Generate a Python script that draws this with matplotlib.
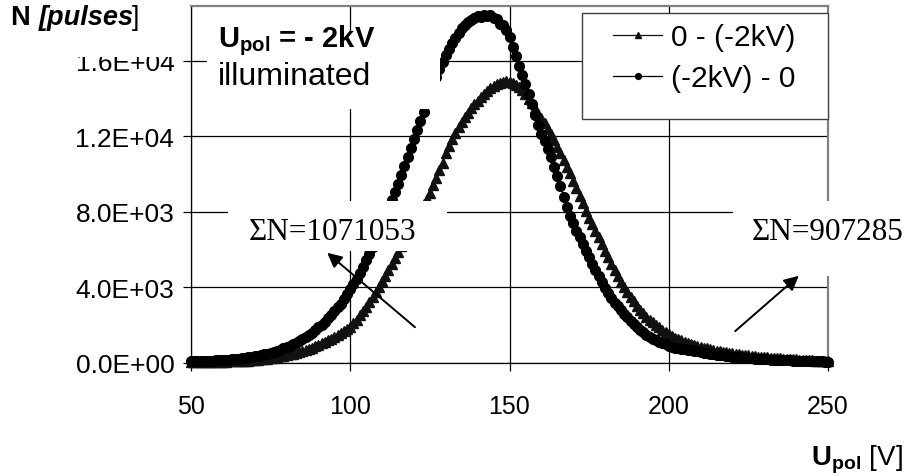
import matplotlib
matplotlib.use('Agg')
import matplotlib.pyplot as plt
from matplotlib.patches import Rectangle
from matplotlib.ticker import FuncFormatter, MultipleLocator

plt.rcParams['font.family'] = ['Liberation Sans', 'DejaVu Sans']
plt.rcParams['mathtext.fontset'] = 'custom'
plt.rcParams['mathtext.rm'] = 'Liberation Sans'
plt.rcParams['mathtext.bf'] = 'Liberation Sans:bold'
plt.rcParams['mathtext.it'] = 'Liberation Sans:italic'

# Polarisation voltage, 1 V steps
U_POL = list(range(50, 251))

# 0 -> (-2kV) sweep (triangles)
N_UP = [
    40, 45, 45, 50, 50, 55, 55, 60, 60, 65,
    70, 75, 80, 85, 90, 100, 110, 120, 130, 140,
    160, 175, 190, 210, 230, 255, 280, 310, 345, 380,
    420, 460, 500, 550, 600, 650, 700, 760, 820, 890,
    960, 1040, 1120, 1200, 1290, 1380, 1480, 1580, 1690, 1800,
    1920, 2100, 2300, 2520, 2750, 2990, 3240, 3500, 3770, 4050,
    4330, 4620, 4920, 5230, 5550, 5880, 6220, 6570, 6930, 7300,
    7500, 7800, 8100, 8400, 8700, 9000, 9400, 9800, 10200, 10600,
    11100, 11500, 11850, 12180, 12480, 12760, 13020, 13260, 13480, 13690,
    13890, 14080, 14250, 14410, 14550, 14670, 14770, 14850, 14900, 14920,
    14900, 14840, 14740, 14600, 14430, 14230, 14000, 13750, 13480, 13190,
    12950, 12680, 12400, 12100, 11780, 11440, 11100, 10750, 10400, 10050,
    9650, 9250, 8850, 8450, 8050, 7700, 7350, 7000, 6650, 6300,
    5950, 5600, 5250, 4900, 4600, 4300, 4020, 3760, 3500, 3260,
    3040, 2830, 2640, 2460, 2300, 2150, 2010, 1880, 1760, 1650,
    1540, 1440, 1350, 1270, 1200, 1130, 1060, 1000, 950, 900,
    850, 810, 770, 730, 690, 660, 630, 600, 570, 540,
    510, 490, 460, 440, 420, 400, 380, 360, 340, 325,
    310, 295, 280, 265, 250, 240, 230, 220, 210, 200,
    190, 180, 170, 160, 150, 140, 130, 120, 110, 100, 90,
]

# (-2kV) -> 0 sweep (circles)
N_DOWN = [
    90, 100, 95, 110, 105, 120, 115, 130, 140, 150,
    165, 170, 185, 200, 210, 230, 250, 270, 300, 330,
    360, 390, 420, 460, 500, 540, 590, 640, 700, 770,
    840, 910, 990, 1070, 1160, 1260, 1370, 1480, 1610, 1740,
    1880, 2030, 2190, 2360, 2540, 2730, 2940, 3150, 3380, 3630,
    3900, 4180, 4470, 4780, 5100, 5440, 5790, 6160, 6540, 6940,
    7340, 7760, 8180, 8610, 9050, 9500, 9960, 10430, 10900, 11380,
    11860, 12340, 12820, 13300, 13780, 14250, 14700, 15130, 15540, 15920,
    16280, 16620, 16930, 17220, 17480, 17710, 17900, 18060, 18180, 18280,
    18350, 18300, 18450, 18380, 18420, 18280, 18230, 17950, 17900, 17620,
    17250, 16750, 16250, 15750, 15250, 14750, 14250, 13700, 13150, 12600,
    12150, 11750, 11350, 10900, 10400, 9900, 9350, 8800, 8250, 7800,
    7400, 7000, 6650, 6300, 5950, 5600, 5250, 4900, 4600, 4300,
    3950, 3700, 3450, 3200, 3000, 2800, 2600, 2420, 2250, 2090,
    1900, 1750, 1620, 1500, 1390, 1290, 1200, 1120, 1050, 980,
    900, 860, 820, 790, 760, 730, 700, 670, 640, 610,
    580, 550, 520, 495, 470, 445, 420, 400, 380, 360,
    340, 320, 305, 290, 275, 260, 245, 235, 225, 215,
    205, 195, 185, 175, 170, 160, 150, 145, 140, 130,
    125, 120, 110, 105, 100, 95, 90, 85, 80, 75, 70,
]

LABELS = ['0 - (-2kV)', '(-2kV) - 0']
SUM_UP = 'ΣN=907285'
SUM_DOWN = 'ΣN=1071053'

W, H = 911, 477
fig = plt.figure(figsize=(W / 100, H / 100), dpi=100)
# axes box in pixels: left 191, right 828, top 7, bottom 364
ax = fig.add_axes([191 / W, 113 / H, 637 / W, 357 / H])
ax.set_xlim(50, 250)
ax.set_ylim(0, 18900)

l1, = ax.plot(U_POL, N_UP, '-', color='#111111', lw=0.9, marker='^',
              ms=7.5, clip_on=False, zorder=3)
l2, = ax.plot(U_POL, N_DOWN, '-', color='black', lw=0.9, marker='o',
              ms=7, clip_on=False, zorder=3)

ax.xaxis.set_major_locator(MultipleLocator(50))
ax.yaxis.set_major_locator(MultipleLocator(4000))
ax.yaxis.set_major_formatter(FuncFormatter(lambda v, p: f'{v:.1E}'))
ax.grid(True, color='black', lw=0.9)
ax.set_axisbelow(True)
ax.tick_params(direction='out', length=6, width=0.9, color='black')
ax.tick_params(axis='y', pad=6, labelsize=19)
ax.tick_params(axis='x', pad=16, labelsize=18)
for s in ['top', 'right']:
    ax.spines[s].set_color('#808080')
    ax.spines[s].set_linewidth(1.6)
for s in ['left', 'bottom']:
    ax.spines[s].set_color('black')
    ax.spines[s].set_linewidth(0.9)


def px_box(x0, y0, x1, y1, **kw):
    """white box given in figure pixels (y from top)"""
    r = Rectangle((x0 / W, 1 - y1 / H), (x1 - x0) / W, (y1 - y0) / H,
                  transform=fig.transFigure, **kw)
    fig.add_artist(r)
    return r


# white boxes behind the annotations (cover grid and curves)
px_box(207, 33, 440, 110, facecolor='white', edgecolor='none', zorder=4)
px_box(60, 33, 182, 58, facecolor='white', edgecolor='none', zorder=4)
px_box(228, 202, 447, 252, facecolor='white', edgecolor='none', zorder=4)
px_box(733, 202, 911, 277, facecolor='white', edgecolor='none', zorder=4)
# legend frame
px_box(582, 14, 828, 120, facecolor='white', edgecolor='#404040', lw=1.0, zorder=4)

leg = fig.legend([l1, l2], LABELS, loc='upper left',
                 bbox_to_anchor=(613 / W, 1 - 24 / H), frameon=False,
                 fontsize=21.5, handlelength=1.65, handletextpad=0.3,
                 borderpad=0, borderaxespad=0, labelspacing=0.45,
                 markerscale=0.6)
leg.set_zorder(5)

fig.text(218 / W, 1 - 47 / H, r'$\mathbf{U}_{\mathbf{pol}}$ = - 2kV',
         fontsize=21, fontweight='bold', va='baseline', zorder=6)
fig.text(218 / W, 1 - 85 / H, 'illuminated', fontsize=23,
         va='baseline', zorder=6)

fig.text(333 / W, 1 - 233 / H, SUM_DOWN, fontsize=22.5, ha='center',
         va='center', family='Liberation Serif', zorder=6)
fig.text(828 / W, 1 - 233 / H, SUM_UP, fontsize=22.5, ha='center',
         va='center', family='Liberation Serif', zorder=6)

arrow = dict(arrowstyle='-|>', color='black', lw=1.4, mutation_scale=22)
ax.annotate('', xy=(92.1, 5930), xytext=(121.0, 1800),
            arrowprops=arrow, annotation_clip=False, zorder=7)
ax.annotate('', xy=(241.5, 4715), xytext=(220.2, 1590),
            arrowprops=arrow, annotation_clip=False, zorder=7)

# axis titles
r = fig.canvas.get_renderer()
t = fig.text(11 / W, 1 - 25 / H, 'N ', fontsize=19.5, fontweight='bold',
             va='baseline')
x1 = t.get_window_extent(r).x1
t = fig.text(x1 / W, 1 - 25 / H, '[pulses', fontsize=19.5, fontweight='bold',
             style='italic', va='baseline')
x1 = t.get_window_extent(r).x1
fig.text(x1 / W - 0.002, 1 - 25 / H, ']', fontsize=19.5, va='baseline')

fig.text(903 / W, 1 - 466 / H, r'$\mathbf{U}_{\mathbf{pol}}$ [V]',
         fontsize=20, ha='right', va='baseline')

fig.savefig('out.png', dpi=100)
